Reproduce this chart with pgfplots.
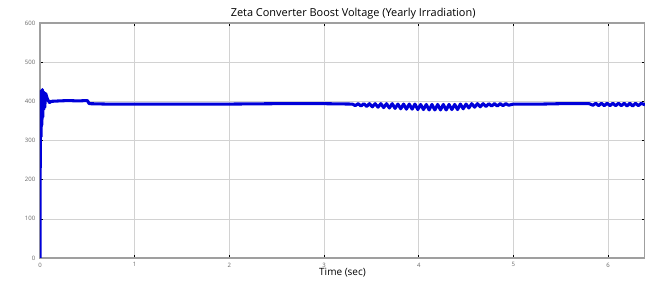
\documentclass[border=0pt]{standalone}
\usepackage{pgfplots}
\pgfplotsset{compat=1.18}
\usepackage{fontspec}
\setmainfont{Open Sans}
\begin{document}
\begin{tikzpicture}
\path[use as bounding box] (-30pt,-27.75pt) rectangle (453.75pt,193.5pt);
\begin{axis}[
  at={(0,0)}, anchor=south west,
  scale only axis, width=453.75pt, height=176.25pt,
  xmin=0, xmax=6.39, ymin=0, ymax=600,
  xtick={0,1,2,3,4,5,6}, ytick={0,100,200,300,400,500,600},
  grid=major, major grid style={gray!35, line width=0.4pt},
  axis line style={gray!75, line width=1pt},
  tick style={black, line width=0.4pt}, major tick length=2pt,
  tick label style={font=\fontsize{4.5}{5}\selectfont, text=gray!80!black},
  /pgf/number format/assume math mode=true,
  title={Zeta Converter Boost Voltage (Yearly Irradiation)},
  title style={font=\fontsize{8.2}{9}\selectfont, yshift=-7pt, xshift=8pt},
  xlabel={Time (sec)},
  xlabel style={font=\fontsize{7.5}{9}\selectfont, yshift=6pt},
  clip=true,
]
\addplot[blue!85!black, line width=2.3pt, line join=round] coordinates {
(0,0)(0.003,300)(0.008,420)(0.012,310)(0.016,428)(0.02,340)(0.025,430)(0.03,360)(0.035,425)(0.04,380)(0.045,422)(0.05,385)(0.06,420)(0.07,412)(0.08,405)(0.1,397)(0.12,400)(0.2,401)(0.3,402)(0.4,401)(0.5,402)(0.52,394)(0.7,393)(1,393)(1.5,393)(2,393)(2.5,394)(3,394)(3.3,393)
(3.33,389)(3.36,394)(3.39,388)(3.42,394)(3.45,387)(3.48,394)(3.51,386)(3.54,394)(3.57,385)(3.6,394)(3.63,384)(3.66,394)(3.69,383)(3.72,394)(3.75,382)(3.78,393)(3.81,381)(3.84,393)(3.87,380)(3.9,393)(3.93,380)(3.96,393)(3.99,379)(4.02,392)(4.05,379)(4.08,392)(4.11,378)(4.14,392)(4.17,378)(4.2,392)(4.23,378)(4.26,392)(4.29,378)(4.32,392)(4.35,379)(4.38,392)(4.41,379)(4.44,393)(4.47,381)(4.5,393)(4.53,383)(4.56,394)(4.59,385)(4.62,394)(4.65,386)(4.68,394)(4.71,387)(4.74,394)(4.77,388)(4.8,394)(4.83,388)(4.86,394)(4.89,389)(4.92,394)(4.95,390)(5.0,393)(5.1,393)(5.3,393)(5.5,394)(5.8,394)
(5.84,390)(5.87,395)(5.9,389)(5.93,395)(5.96,389)(5.99,395)(6.02,389)(6.05,395)(6.08,389)(6.11,395)(6.14,389)(6.17,395)(6.2,388)(6.23,395)(6.26,388)(6.29,395)(6.32,389)(6.35,395)(6.39,391)
};
\end{axis}
\end{tikzpicture}
\end{document}
